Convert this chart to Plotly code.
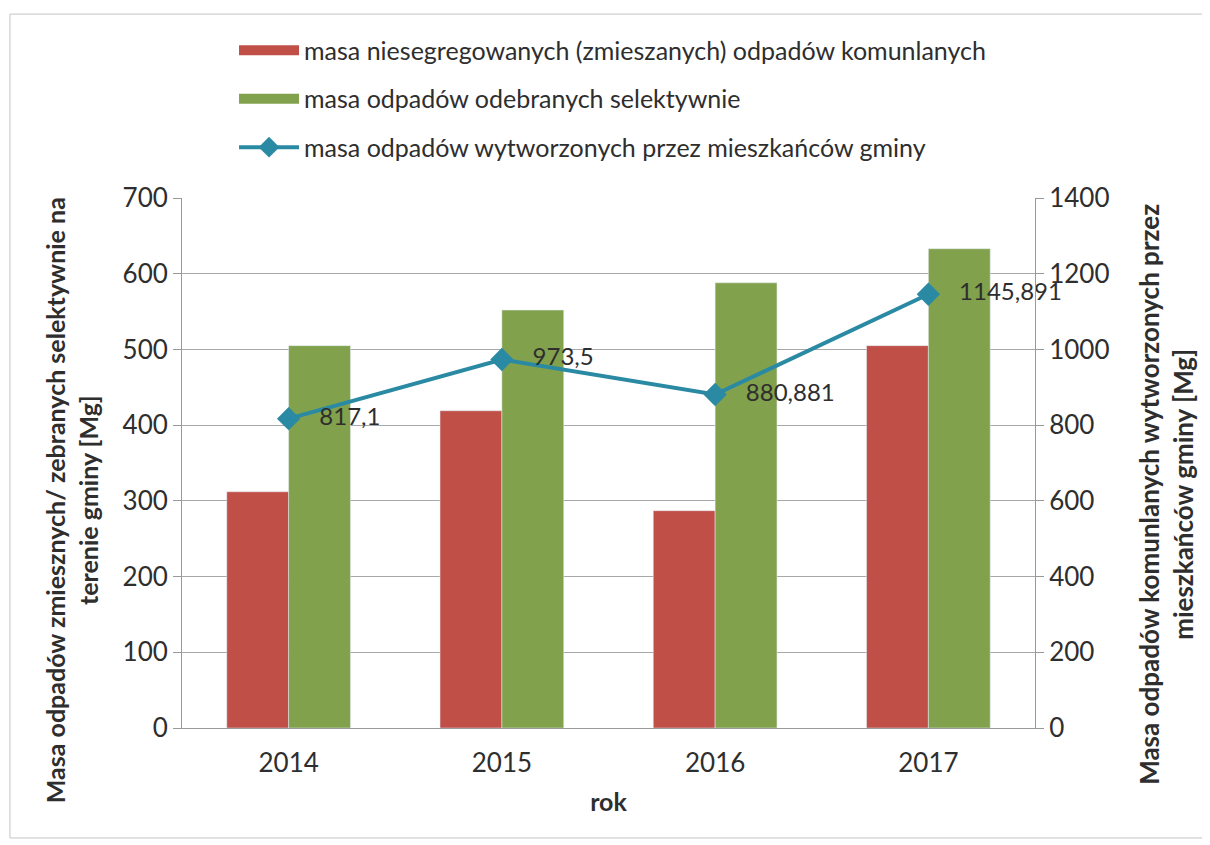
import plotly.graph_objects as go

years = ["2014", "2015", "2016", "2017"]
mixed = [312, 419, 287, 505]
selective = [505, 552, 588, 633]
total = [817.1, 973.5, 880.881, 1145.891]
total_labels = ["817,1", "973,5", "880,881", "1145,891"]

name_mixed = "masa niesegregowanych (zmieszanych) odpadów komunlanych"
name_sel = "masa odpadów odebranych selektywnie"
name_tot = "masa odpadów wytworzonych przez mieszkańców gminy"
title_left = "<b>Masa odpadów zmiesznych/ zebranych selektywnie na<br>terenie gminy [Mg]</b>"
title_right = "<b>Masa odpadów komunlanych wytworzonych przez<br>mieszkańców gminy [Mg]</b>"

FONT = "Lato"
TXT = "#2e2e2e"
RED = "#c04f48"
GREEN = "#82a14c"
TEAL = "#2a8aa3"

fig = go.Figure()
fig.add_trace(go.Bar(x=years, y=mixed, name=name_mixed, marker_color=RED,
                     showlegend=False, yaxis="y"))
fig.add_trace(go.Bar(x=years, y=selective, name=name_sel, marker_color=GREEN,
                     showlegend=False, yaxis="y"))
fig.add_trace(go.Scatter(x=years, y=total, name=name_tot, yaxis="y2",
                         mode="lines+markers+text", text=total_labels,
                         texttemplate="   %{text}",
                         textposition="middle right", cliponaxis=False,
                         textfont=dict(size=24, color=TXT, family=FONT),
                         line=dict(color=TEAL, width=4),
                         marker=dict(symbol="diamond", size=18, color=TEAL),
                         legendgroup="c", legendrank=3, showlegend=True))
# legend entries for the bar series (wide rectangular swatches)
fig.add_trace(go.Scatter(x=[None], y=[None], mode="lines", name=name_mixed,
                         line=dict(color=RED, width=15), legendgroup="a",
                         legendrank=1, hoverinfo="skip"))
fig.add_trace(go.Scatter(x=[None], y=[None], mode="lines", name=name_sel,
                         line=dict(color=GREEN, width=15), legendgroup="b",
                         legendrank=2, hoverinfo="skip"))

fig.update_layout(
    width=1210, height=845,
    paper_bgcolor="white", plot_bgcolor="white",
    font=dict(family=FONT, size=25, color=TXT),
    margin=dict(l=174, r=183, t=190, b=125),
    barmode="group", bargap=0.42, bargroupgap=0,
    showlegend=True,
    legend=dict(x=0.061, xanchor="left", y=0.977, yanchor="top",
                yref="container", font=dict(size=25, color=TXT, family=FONT),
                tracegroupgap=13, itemwidth=60, bgcolor="rgba(0,0,0,0)"),
    xaxis=dict(showgrid=False, showline=True, linecolor="#999999", linewidth=1,
               ticks="", tickfont=dict(size=26), ticklabelstandoff=12,
               title=dict(text="<b>rok</b>", font=dict(size=25), standoff=16),
               automargin=False),
    yaxis=dict(range=[0, 700], dtick=100, showgrid=True, gridcolor="#a8a8a8",
               gridwidth=1, showline=True, linecolor="#999999", ticks="outside",
               ticklen=8, tickcolor="#999999", tickfont=dict(size=26),
               zeroline=False, automargin=False),
    yaxis2=dict(range=[0, 1400], dtick=200, overlaying="y", side="right",
                showgrid=False, showline=True, linecolor="#999999", ticks="outside",
                ticklen=8, tickcolor="#999999", tickfont=dict(size=26),
                zeroline=False, automargin=False),
)

fig.add_annotation(text=title_left, xref="paper", yref="paper", x=-0.130, y=0.43,
                   textangle=-90, showarrow=False, font=dict(size=25, color=TXT),
                   xanchor="center", yanchor="middle")
fig.add_annotation(text=title_right, xref="paper", yref="paper", x=1.1536, y=0.44,
                   textangle=-90, showarrow=False, font=dict(size=26, color=TXT),
                   xanchor="center", yanchor="middle")

fig.add_shape(type="rect", xref="paper", yref="paper", x0=-0.2017, x1=1.197,
              y0=-0.2075, y1=1.347, line=dict(color="#c4c4c4", width=1), layer="below")

fig.write_html("out.html")
